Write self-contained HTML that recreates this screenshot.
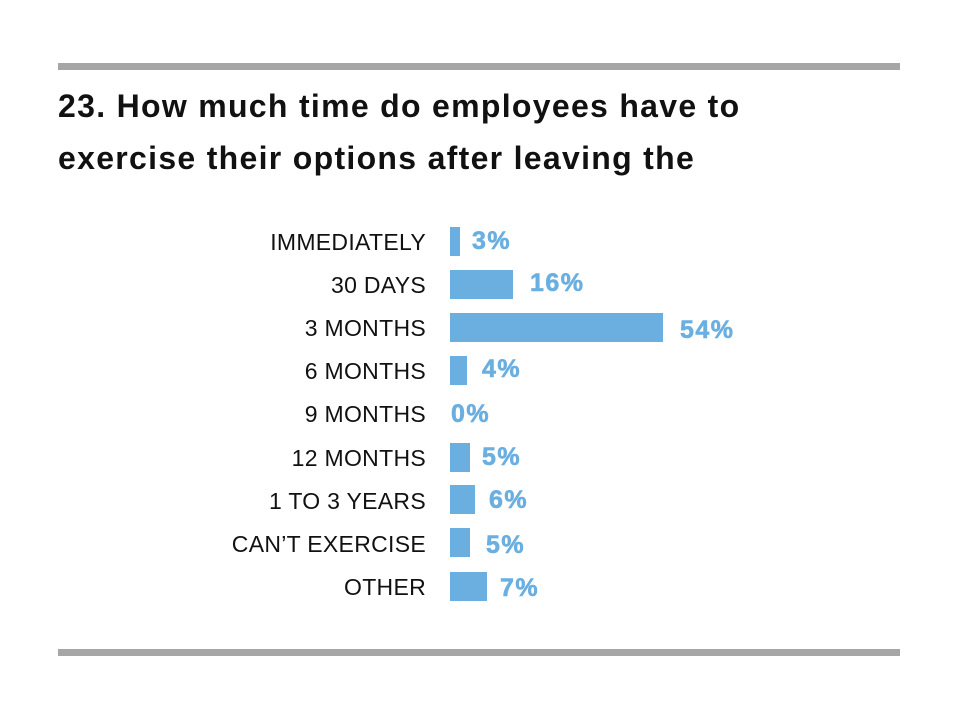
<!DOCTYPE html>
<html><head><meta charset="utf-8"><style>
body{margin:0;width:959px;height:720px;background:#fff;position:relative;overflow:hidden;font-family:"Liberation Sans",sans-serif}
.rule{position:absolute;left:58px;width:842px;height:7px;background:#a6a6a6}
.t{position:absolute;left:58px;font-weight:bold;font-size:32px;color:#111;white-space:nowrap;letter-spacing:1.3px}
.l{position:absolute;right:533px;font-size:23px;color:#111;white-space:nowrap;letter-spacing:0.3px;line-height:30px}
.b{position:absolute;left:450px;height:29px;background:#6aafe0}
.v{position:absolute;font-weight:900;font-size:25px;color:#6aafe0;line-height:30px;letter-spacing:1.5px;-webkit-text-stroke:0.6px #6aafe0}
</style></head><body>
<div class="rule" style="top:63px"></div>
<div class="rule" style="top:649px"></div>
<div class="t" style="top:88px">23. How much time do employees have to</div>
<div class="t" style="top:140px">exercise their options after leaving the</div>

<div class="l" style="top:227px">IMMEDIATELY</div><div class="b" style="top:227px;width:10px"></div><div class="v" style="top:226px;left:472px">3%</div>
<div class="l" style="top:270px">30 DAYS</div><div class="b" style="top:270px;width:63px"></div><div class="v" style="top:268px;left:530px">16%</div>
<div class="l" style="top:313px">3 MONTHS</div><div class="b" style="top:313px;width:213px"></div><div class="v" style="top:315px;left:680px">54%</div>
<div class="l" style="top:356px">6 MONTHS</div><div class="b" style="top:356px;width:17px"></div><div class="v" style="top:354px;left:482px">4%</div>
<div class="l" style="top:399px">9 MONTHS</div><div class="v" style="top:399px;left:451px">0%</div>
<div class="l" style="top:443px">12 MONTHS</div><div class="b" style="top:443px;width:20px"></div><div class="v" style="top:442px;left:482px">5%</div>
<div class="l" style="top:486px">1 TO 3 YEARS</div><div class="b" style="top:485px;width:25px"></div><div class="v" style="top:485px;left:489px">6%</div>
<div class="l" style="top:529px">CAN’T EXERCISE</div><div class="b" style="top:528px;width:20px"></div><div class="v" style="top:530px;left:486px">5%</div>
<div class="l" style="top:572px">OTHER</div><div class="b" style="top:572px;width:37px"></div><div class="v" style="top:573px;left:500px">7%</div>
</body></html>
